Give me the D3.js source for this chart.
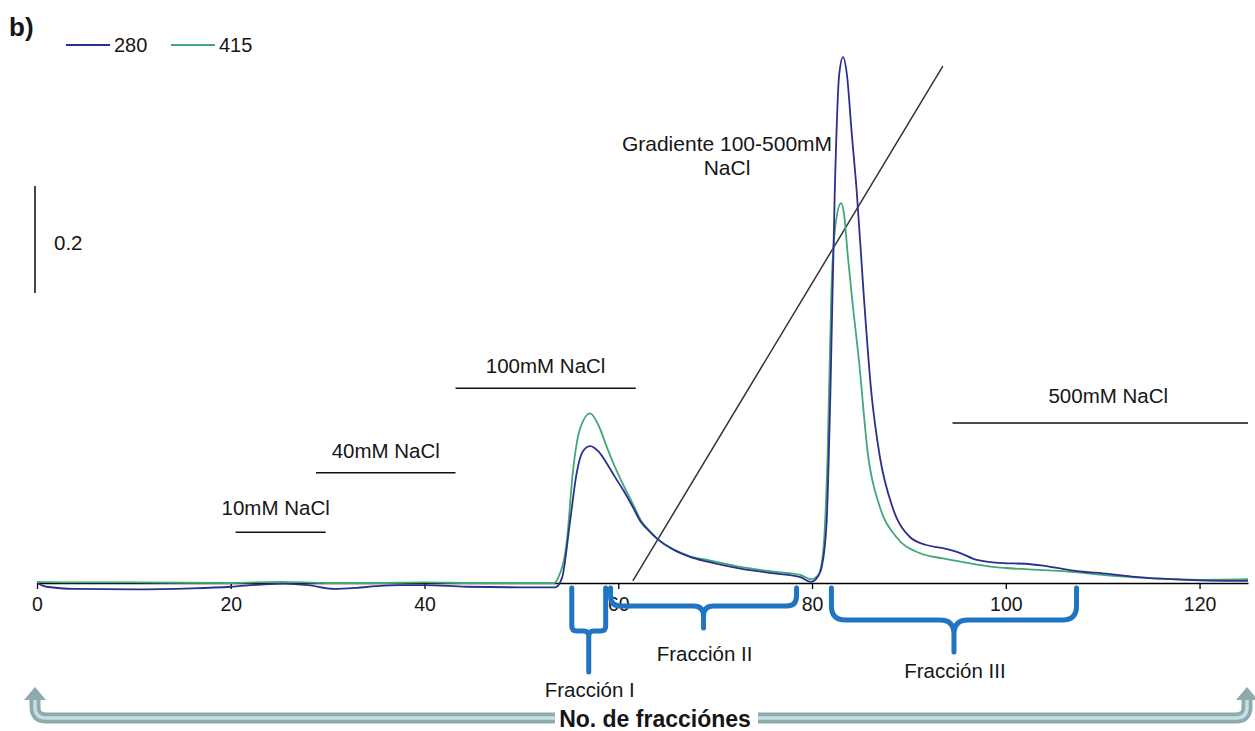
<!DOCTYPE html>
<html>
<head>
<meta charset="utf-8">
<script src="https://cdn.jsdelivr.net/npm/d3@7"></script>
<style>
  body { margin: 0; background: #fff; }
  text { font-family: "Liberation Sans", Arial, sans-serif; fill: #161616; }
</style>
</head>
<body>
<div id="chart"></div>
<script>
// absorbance traces (fraction number, absorbance)
const fractions280 = [0, 1, 4, 10, 16, 20, 23, 25.5, 28, 30.6, 33, 35, 37.5, 40, 44.3, 50, 53.5, 54.2, 55.0, 55.7, 56.3, 57.1, 58, 58.8, 59.7, 60.6, 61.5, 62.3, 63.2, 64.0, 65.7, 67.4, 69.2, 72.6, 76.1, 78.8, 79.9, 80.6, 81, 81.5, 81.9, 82.35, 82.8, 83.2, 83.6, 84.1, 84.6, 85.3, 86.1, 87.0, 88.3, 90.1, 91.8, 93.5, 95.3, 97, 99.7, 102, 104, 106, 108, 110, 113, 116, 120, 125];
const abs280 = [0.0, -0.007, -0.011, -0.012, -0.01, -0.007, -0.003, -0.001, -0.004, -0.011, -0.009, -0.006, -0.004, -0.004, -0.007, -0.008, -0.008, 0.01, 0.112, 0.205, 0.245, 0.256, 0.245, 0.224, 0.197, 0.171, 0.142, 0.115, 0.097, 0.083, 0.062, 0.049, 0.04, 0.027, 0.018, 0.011, 0.002, 0.012, 0.03, 0.112, 0.36, 0.735, 0.95, 0.983, 0.95, 0.84, 0.735, 0.548, 0.36, 0.236, 0.142, 0.086, 0.071, 0.065, 0.056, 0.043, 0.037, 0.036, 0.032, 0.026, 0.021, 0.018, 0.012, 0.008, 0.005, 0.004];

const fractions415 = [0, 5, 10, 20, 25, 30, 35, 40, 45, 50, 53.4, 53.8, 54.7, 55.3, 56, 57.1, 58, 58.8, 59.7, 60.6, 61.5, 62.3, 63.2, 64.0, 65.7, 67.4, 69.2, 72.6, 76.1, 78.8, 79.9, 80.6, 81.1, 81.6, 82.0, 82.5, 83.0, 83.3, 83.7, 84.2, 84.8, 85.8, 87.0, 88.7, 91.1, 93.5, 95.3, 98.7, 100, 104, 108, 110, 113, 116, 120, 125];
const abs415 = [0.002, 0.001, 0.001, 0.0, 0.002, 0.0, 0.0, 0.001, 0.0, 0.0, 0.0, 0.01, 0.08, 0.205, 0.285, 0.317, 0.293, 0.255, 0.215, 0.18, 0.148, 0.118, 0.098, 0.083, 0.063, 0.05, 0.043, 0.03, 0.021, 0.015, 0.007, 0.014, 0.05, 0.236, 0.548, 0.68, 0.71, 0.69, 0.61, 0.52, 0.423, 0.236, 0.142, 0.086, 0.056, 0.046, 0.04, 0.03, 0.028, 0.024, 0.019, 0.015, 0.011, 0.008, 0.006, 0.007];

// NaCl gradient line
const gradientFractions = [61.5, 93.5];
const gradientValues = [0.004, 0.966];

// step elution bars
const saltLabels = ["10mM NaCl", "40mM NaCl", "100mM NaCl", "500mM NaCl"];
const saltStart = [20.5, 28.8, 43.2, 94.5];
const saltEnd = [29.8, 43.2, 61.8, 125];
const saltLevel = [0.095, 0.206, 0.364, 0.299];

// pooled fractions
const poolLabels = ["Fracción I", "Fracción II", "Fracción III"];
const poolStart = [55.2, 59.2, 82.0];
const poolEnd = [58.7, 78.4, 107.3];

const xTicks = [0, 20, 40, 60, 80, 100, 120];
const seriesNames = ["280", "415"];
const seriesColors = ["#2c2f90", "#42a877"];

const width = 1255, height = 731;
const labelFont = "20.5px";

const svg = d3.select("#chart").append("svg")
  .attr("width", width)
  .attr("height", height);

const x = d3.scaleLinear().domain([0, 125]).range([37, 1248]);
const y = d3.scaleLinear().domain([0, 1]).range([583, 48]);

// axis
const xAxis = svg.append("g")
  .attr("transform", "translate(0," + y(0) + ")")
  .call(d3.axisBottom(x).tickValues(xTicks).tickSize(6).tickPadding(8).tickSizeOuter(0));
xAxis.select(".domain").attr("stroke", "#000").attr("stroke-width", 1.5);
xAxis.selectAll(".tick line").attr("stroke", "#000").attr("stroke-width", 1.3);
xAxis.selectAll(".tick text")
  .attr("font-size", "19.5px")
  .attr("font-family", "Liberation Sans, Arial, sans-serif")
  .attr("fill", "#161616");

// gradient line
svg.append("line")
  .attr("x1", x(gradientFractions[0])).attr("y1", y(gradientValues[0]))
  .attr("x2", x(gradientFractions[1])).attr("y2", y(gradientValues[1]))
  .attr("stroke", "#333").attr("stroke-width", 1.5);

// traces
const line = d3.line()
  .x(d => x(d[0]))
  .y(d => y(d[1]))
  .curve(d3.curveMonotoneX);

const traces = [
  d3.zip(fractions415, abs415),
  d3.zip(fractions280, abs280)
];
const traceColors = [seriesColors[1], seriesColors[0]];

traces.forEach(function (t, i) {
  svg.append("path")
    .datum(t)
    .attr("fill", "none")
    .attr("stroke", traceColors[i])
    .attr("stroke-width", 1.8)
    .attr("d", line);
});

// salt step bars
const textOffsets = [-5, 0, 0, 8];
const textRaise = [17, 15, 15, 20];
saltLabels.forEach(function (lab, i) {
  svg.append("line")
    .attr("x1", x(saltStart[i])).attr("x2", x(saltEnd[i]))
    .attr("y1", y(saltLevel[i])).attr("y2", y(saltLevel[i]))
    .attr("stroke", "#111").attr("stroke-width", 1.4);
  svg.append("text")
    .attr("x", (x(saltStart[i]) + x(saltEnd[i])) / 2 + textOffsets[i])
    .attr("y", y(saltLevel[i]) - textRaise[i])
    .attr("text-anchor", "middle")
    .attr("font-size", labelFont)
    .text(lab);
});

// gradient label
svg.append("text")
  .attr("x", 727).attr("y", 151)
  .attr("text-anchor", "middle")
  .attr("font-size", "21px")
  .text("Gradiente 100-500mM");
svg.append("text")
  .attr("x", 727).attr("y", 175)
  .attr("text-anchor", "middle")
  .attr("font-size", "21px")
  .text("NaCl");

// scale bar
svg.append("line")
  .attr("x1", 35).attr("x2", 35)
  .attr("y1", y(0.742)).attr("y2", y(0.542))
  .attr("stroke", "#333").attr("stroke-width", 1.8);
svg.append("text")
  .attr("x", 54).attr("y", 250)
  .attr("font-size", labelFont)
  .text("0.2");

// braces under the axis
const braceTop = [588, 588, 588];
const braceMid = [631, 606, 620];
const braceStem = [672, 628, 652];
const braceR = [5, 10, 14];
const braceTextY = [697, 661, 678];

function bracePath(x1, x2, y0, yh, ys, r) {
  const xm = (x1 + x2) / 2;
  return "M" + x1 + "," + y0 +
    "L" + x1 + "," + (yh - r) +
    "Q" + x1 + "," + yh + " " + (x1 + r) + "," + yh +
    "L" + (xm - r) + "," + yh +
    "Q" + xm + "," + yh + " " + xm + "," + (yh + r) +
    "L" + xm + "," + ys +
    "M" + xm + "," + (yh + r) +
    "Q" + xm + "," + yh + " " + (xm + r) + "," + yh +
    "L" + (x2 - r) + "," + yh +
    "Q" + x2 + "," + yh + " " + x2 + "," + (yh - r) +
    "L" + x2 + "," + y0;
}

poolLabels.forEach(function (lab, i) {
  const x1 = x(poolStart[i]), x2 = x(poolEnd[i]);
  svg.append("path")
    .attr("d", bracePath(x1, x2, braceTop[i], braceMid[i], braceStem[i], braceR[i]))
    .attr("fill", "none")
    .attr("stroke", "#1f74c4")
    .attr("stroke-width", 5)
    .attr("stroke-linecap", "round")
    .attr("stroke-linejoin", "round");
  svg.append("text")
    .attr("x", (x1 + x2) / 2 + 1)
    .attr("y", braceTextY[i])
    .attr("text-anchor", "middle")
    .attr("font-size", labelFont)
    .text(lab);
});

// bottom double arrow with title
const arrowY = 718, arrowTop = 699, tipY = 687;
const leftX = x(0) - 2, rightX = x(125) - 1;
const gapL = 555, gapR = 758, rr = 11;
const leftArm = "M" + leftX + "," + arrowTop + "L" + leftX + "," + (arrowY - rr) +
  "Q" + leftX + "," + arrowY + " " + (leftX + rr) + "," + arrowY + "L" + gapL + "," + arrowY;
const rightArm = "M" + gapR + "," + arrowY + "L" + (rightX - rr) + "," + arrowY +
  "Q" + rightX + "," + arrowY + " " + rightX + "," + (arrowY - rr) + "L" + rightX + "," + arrowTop;

[leftArm, rightArm].forEach(function (d) {
  svg.append("path").attr("d", d).attr("fill", "none")
    .attr("stroke", "#8eaaac").attr("stroke-width", 11);
  svg.append("path").attr("d", d).attr("fill", "none")
    .attr("stroke", "#c2e0e2").attr("stroke-width", 3.5);
});
[leftX, rightX].forEach(function (ax) {
  svg.append("path")
    .attr("d", "M" + ax + "," + tipY + "L" + (ax + 11) + "," + (arrowTop + 1) + "L" + (ax - 11) + "," + (arrowTop + 1) + "Z")
    .attr("fill", "#8eaaac");
});

svg.append("text")
  .attr("x", 655).attr("y", 727)
  .attr("text-anchor", "middle")
  .attr("font-size", "23px")
  .attr("font-weight", "bold")
  .text("No. de fracciónes");

// panel letter
svg.append("text")
  .attr("x", 9).attr("y", 36)
  .attr("font-size", "26px")
  .attr("font-weight", "bold")
  .attr("fill", "#000")
  .text("b)");

// legend
seriesNames.forEach(function (name, i) {
  const lx = 66 + i * 105;
  svg.append("line")
    .attr("x1", lx).attr("x2", lx + 44)
    .attr("y1", 45).attr("y2", 45)
    .attr("stroke", seriesColors[i]).attr("stroke-width", 2);
  svg.append("text")
    .attr("x", lx + 48).attr("y", 52)
    .attr("font-size", "20px")
    .text(name);
});
</script>
</body>
</html>
